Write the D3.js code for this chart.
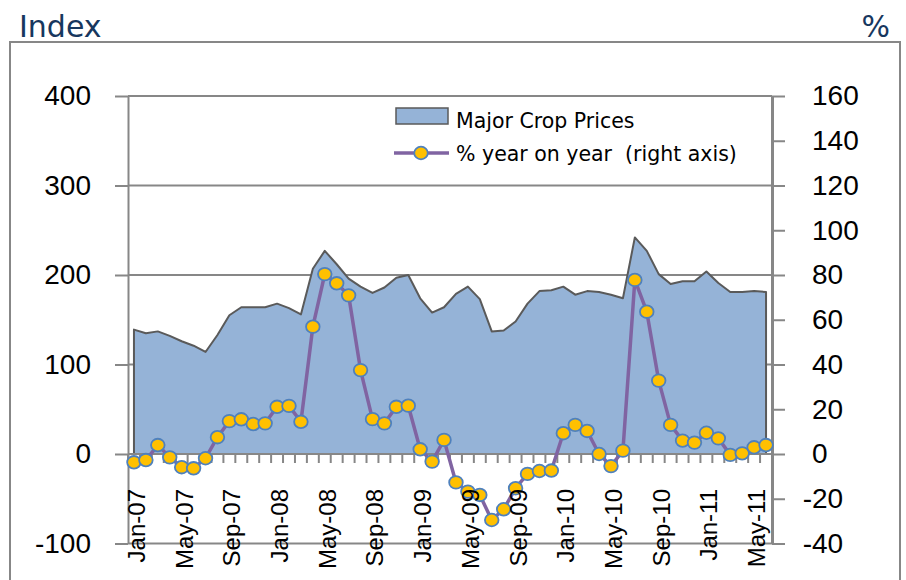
<!DOCTYPE html>
<html>
<head>
<meta charset="utf-8">
<script src="https://cdn.jsdelivr.net/npm/d3@7"></script>
<style>
    body { margin: 0; background: #fff; }
    svg { display: block; }
</style>
</head>
<body>
<svg id="chartBoxId" width="906" height="580"></svg>
<script>
// months Jan-07 .. Jun-11
var months = ["Jan-07","Feb-07","Mar-07","Apr-07","May-07","Jun-07","Jul-07","Aug-07","Sep-07","Oct-07","Nov-07","Dec-07",
    "Jan-08","Feb-08","Mar-08","Apr-08","May-08","Jun-08","Jul-08","Aug-08","Sep-08","Oct-08","Nov-08","Dec-08",
    "Jan-09","Feb-09","Mar-09","Apr-09","May-09","Jun-09","Jul-09","Aug-09","Sep-09","Oct-09","Nov-09","Dec-09",
    "Jan-10","Feb-10","Mar-10","Apr-10","May-10","Jun-10","Jul-10","Aug-10","Sep-10","Oct-10","Nov-10","Dec-10",
    "Jan-11","Feb-11","Mar-11","Apr-11","May-11","Jun-11"]

// Major Crop Prices index (left axis)
var cropIndex = [139, 135, 137, 132, 126, 121, 114, 133, 155, 164, 164, 164,
    168, 163, 156, 207, 227, 212, 196, 187, 180, 186, 197, 200,
    174, 158, 164, 179, 187, 173, 137, 138, 148, 168, 182, 183,
    187, 178, 182, 181, 178, 174, 242, 227, 201, 190, 193, 193,
    204, 191, 181, 181, 182, 181]

// % year on year (right axis)
var yoyPct = [-3.7, -2.7, 4.0, -1.5, -5.9, -6.4, -1.9, 7.5, 14.7, 15.5, 13.4, 13.7,
    21.1, 21.5, 14.4, 56.9, 80.4, 76.3, 70.9, 37.5, 15.6, 13.7, 21.1, 21.6,
    2.1, -3.4, 6.3, -12.7, -16.8, -18.3, -29.5, -24.7, -15.3, -8.9, -7.6, -7.4,
    9.3, 13.0, 10.3, 0.0, -5.4, 1.5, 77.8, 63.6, 32.8, 13.0, 6.0, 5.1,
    9.5, 7.0, -0.4, 0.3, 3.0, 4.0]

var tickLabels = ["Jan-07","May-07","Sep-07","Jan-08","May-08","Sep-08","Jan-09","May-09",
    "Sep-09","Jan-10","May-10","Sep-10","Jan-11","May-11"]
var leftTicks = [-100, 0, 100, 200, 300, 400]
var rightTicks = [-40, -20, 0, 20, 40, 60, 80, 100, 120, 140, 160]

var legendNames = ["Major Crop Prices", "% year on year\u00a0\u00a0(right axis)"]

var plot = {left: 128, right: 772, top: 96, bottom: 543.5}
var gridColor = "#878787"
var areaFill = "#95b3d7"
var lineColor = "#8064a2"
var dotFill = "#ffc000"
var dotStroke = "#4f81bd"
var labelFont = "'Liberation Sans', Arial, sans-serif"
var textFont = "'DejaVu Sans', Verdana, sans-serif"

var svg = d3.select("#chartBoxId")

var data = months.map(function (m, i) {
    return {"Month": m, "Index": cropIndex[i], "Pct": yoyPct[i]}
})

var xScale = d3.scaleBand()
    .domain(months)
    .range([plot.left, plot.right])
    .padding(0)

var yLeft = d3.scaleLinear()
    .domain([-100, 400])
    .range([plot.bottom, plot.top])

var yRight = d3.scaleLinear()
    .domain([-40, 160])
    .range([plot.bottom, plot.top])

function xMid(m) {
    return xScale(m) + xScale.bandwidth() / 2
}

// plain hyphen for negatives, like the original
function plainNum(d) {
    return String(d)
}

// outer frame
svg.append("rect")
    .attr("x", 10)
    .attr("y", 42)
    .attr("width", 890)
    .attr("height", 600)
    .attr("fill", "none")
    .attr("stroke", gridColor)
    .attr("stroke-width", 2)

svg.append("text")
    .attr("x", 19)
    .attr("y", 37)
    .style("font-family", textFont)
    .style("font-size", "30px")
    .attr("fill", "#17375e")
    .text("Index")

svg.append("text")
    .attr("x", 890)
    .attr("y", 37)
    .attr("text-anchor", "end")
    .style("font-family", textFont)
    .style("font-size", "30px")
    .attr("fill", "#17375e")
    .text("%")

// gridlines (left axis values)
svg.append("g")
    .selectAll("line")
    .data(leftTicks)
    .enter().append("line")
    .attr("x1", plot.left)
    .attr("x2", plot.right)
    .attr("y1", function (d) { return yLeft(d) })
    .attr("y2", function (d) { return yLeft(d) })
    .attr("stroke", gridColor)
    .attr("stroke-width", 2)

// left axis
var leftAxis = svg.append("g")
    .attr("transform", "translate(" + plot.left + ",0)")
    .call(d3.axisLeft(yLeft).tickValues(leftTicks).tickFormat(plainNum)
        .tickSize(13).tickPadding(24).tickSizeOuter(0))
leftAxis.select(".domain").attr("stroke", gridColor).attr("stroke-width", 2)
leftAxis.selectAll(".tick line").attr("stroke", gridColor).attr("stroke-width", 2)
leftAxis.selectAll("text")
    .style("font-family", labelFont)
    .style("font-size", "28px")
    .attr("fill", "#000")

// area
var area = d3.area()
    .x(function (d) { return xMid(d.Month) })
    .y0(yLeft(0))
    .y1(function (d) { return yLeft(d.Index) })

svg.append("path")
    .datum(data)
    .attr("d", area)
    .attr("fill", areaFill)
    .attr("stroke", "#5a5a5a")
    .attr("stroke-width", 2)
    .attr("stroke-linejoin", "round")

// category axis at zero
svg.append("line")
    .attr("x1", plot.left)
    .attr("x2", plot.right)
    .attr("y1", yLeft(0))
    .attr("y2", yLeft(0))
    .attr("stroke", gridColor)
    .attr("stroke-width", 2)

var boundaries = months.map(function (m) { return xScale(m) })
boundaries.push(plot.right)
svg.append("g")
    .selectAll("line")
    .data(boundaries)
    .enter().append("line")
    .attr("x1", function (d) { return d })
    .attr("x2", function (d) { return d })
    .attr("y1", yLeft(0))
    .attr("y2", yLeft(0) + 9)
    .attr("stroke", gridColor)
    .attr("stroke-width", 2)

// right axis - digits line up, minus hangs to the left
var rightAxis = svg.append("g")
    .attr("transform", "translate(" + plot.right + ",0)")
    .call(d3.axisRight(yRight).tickValues(rightTicks).tickFormat(plainNum)
        .tickSize(13).tickPadding(27).tickSizeOuter(0))
rightAxis.select(".domain").attr("stroke", gridColor).attr("stroke-width", 3)
rightAxis.selectAll(".tick line").attr("stroke", gridColor).attr("stroke-width", 2)
rightAxis.selectAll("text")
    .style("font-family", labelFont)
    .style("font-size", "28px")
    .attr("fill", "#000")
    .attr("dx", function (d) { return d < 0 ? -9.3 : 0 })

// % yoy line + markers
var line = d3.line()
    .x(function (d) { return xMid(d.Month) })
    .y(function (d) { return yRight(d.Pct) })

svg.append("path")
    .datum(data)
    .attr("d", line)
    .attr("fill", "none")
    .attr("stroke", lineColor)
    .attr("stroke-width", 3.5)
    .attr("stroke-linejoin", "round")

svg.append("g")
    .selectAll("ellipse")
    .data(data)
    .enter().append("ellipse")
    .attr("cx", function (d) { return xMid(d.Month) })
    .attr("cy", function (d) { return yRight(d.Pct) })
    .attr("rx", 6.8)
    .attr("ry", 6.3)
    .attr("fill", dotFill)
    .attr("stroke", dotStroke)
    .attr("stroke-width", 1.8)

// x labels, rotated
svg.append("g")
    .selectAll("text")
    .data(tickLabels)
    .enter().append("text")
    .attr("transform", function (d) {
        return "translate(" + (xMid(d) + 11) + ",489) rotate(-90)"
    })
    .attr("text-anchor", "end")
    .style("font-family", labelFont)
    .style("font-size", "24px")
    .attr("fill", "#000")
    .text(function (d) { return d })

// legend
var legend = svg.append("g")
legend.append("rect")
    .attr("x", 396)
    .attr("y", 108)
    .attr("width", 52)
    .attr("height", 16)
    .attr("fill", areaFill)
    .attr("stroke", "#5a5a5a")
    .attr("stroke-width", 1.5)
legend.append("text")
    .attr("x", 456)
    .attr("y", 128)
    .style("font-family", textFont)
    .style("font-size", "20.5px")
    .attr("fill", "#000")
    .text(legendNames[0])
legend.append("line")
    .attr("x1", 394)
    .attr("x2", 449)
    .attr("y1", 153)
    .attr("y2", 153)
    .attr("stroke", lineColor)
    .attr("stroke-width", 3.5)
legend.append("ellipse")
    .attr("cx", 421)
    .attr("cy", 153)
    .attr("rx", 6.8)
    .attr("ry", 6.3)
    .attr("fill", dotFill)
    .attr("stroke", dotStroke)
    .attr("stroke-width", 1.8)
legend.append("text")
    .attr("x", 456)
    .attr("y", 161)
    .style("font-family", textFont)
    .style("font-size", "20.5px")
    .attr("fill", "#000")
    .text(legendNames[1])
</script>
</body>
</html>
